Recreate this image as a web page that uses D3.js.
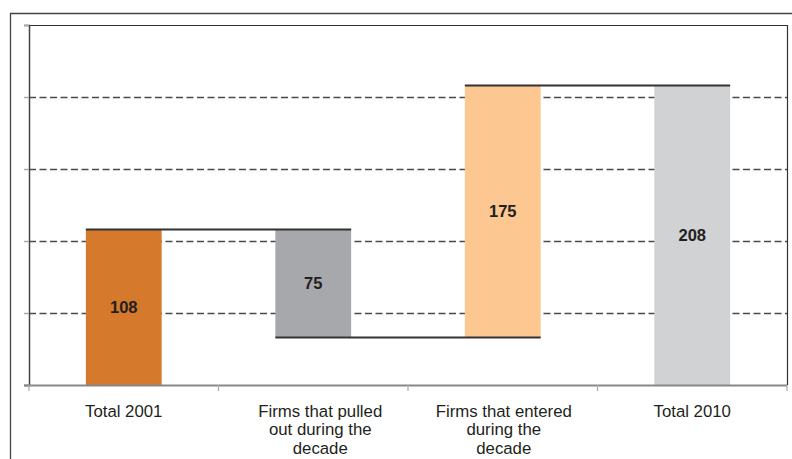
<!DOCTYPE html>
<html>
<head>
<meta charset="utf-8">
<script src="https://cdn.jsdelivr.net/npm/d3@7"></script>
<style>
  html, body { margin: 0; padding: 0; background: #fff; }
  svg { display: block; font-family: "Liberation Sans", Arial, sans-serif; }
</style>
</head>
<body>
<svg id="chart" width="792" height="459"></svg>
<script>
// Firm counts, waterfall from 2001 to 2010
const categories = [
  "Total 2001",
  "Firms that pulled out during the decade",
  "Firms that entered during the decade",
  "Total 2010"
];
const categoryLines = [
  ["Total 2001"],
  ["Firms that pulled", "out during the", "decade"],
  ["Firms that entered", "during the", "decade"],
  ["Total 2010"]
];
const values = [108, -75, 175, 208];
const kinds = ["total", "delta", "delta", "total"];
const barColors = ["#D5792D", "#A7A8AB", "#FCC790", "#D1D2D4"];
const yTicks = [0, 50, 100, 150, 200, 250];

// Running start/end of each step
let running = 0;
const steps = values.map((v, i) => {
  let start, end;
  if (kinds[i] === "total") { start = 0; end = v; running = v; }
  else { start = running; end = running + v; running = end; }
  return { cat: categories[i], lines: categoryLines[i], value: Math.abs(v), start, end, color: barColors[i] };
});

const svg = d3.select("#chart");
const plot = { left: 29, right: 787, top: 25, bottom: 385 };

const x = d3.scaleBand()
  .domain(categories)
  .range([plot.left, plot.right])
  .paddingInner(0.6)
  .paddingOuter(0.3);

const y = d3.scaleLinear().domain([0, 250]).range([plot.bottom, plot.top]);

// Outer frame
svg.append("path")
  .attr("d", `M10.5,459 V13.5 H792`)
  .attr("fill", "none").attr("stroke", "#444").attr("stroke-width", 1.3);

// Plot box: top and right edges
svg.append("path")
  .attr("d", `M${plot.left},${plot.top + 0.5} H${plot.right + 0.5} V${plot.bottom}`)
  .attr("fill", "none").attr("stroke", "#333").attr("stroke-width", 1.2);

// Dashed grid lines
svg.append("g")
  .selectAll("line")
  .data(yTicks.filter(t => t > 0 && t < 250))
  .join("line")
  .attr("x1", plot.left).attr("x2", plot.right)
  .attr("y1", d => Math.round(y(d)) + 0.5).attr("y2", d => Math.round(y(d)) + 0.5)
  .attr("stroke", "#4a4a4a").attr("stroke-width", 1.3)
  .attr("stroke-dasharray", "7,3.5");

// Y axis with short ticks and no labels
const yAxis = svg.append("g")
  .attr("transform", `translate(${plot.left},0)`)
  .call(d3.axisLeft(y).tickValues(yTicks).tickSize(5).tickFormat(""));
yAxis.select(".domain").attr("stroke", "#444").attr("stroke-width", 1.5);
yAxis.selectAll(".tick line").attr("stroke", "#aaa").attr("stroke-width", 1.5);

// Bars
svg.append("g")
  .selectAll("rect")
  .data(steps)
  .join("rect")
  .attr("x", d => x(d.cat))
  .attr("width", x.bandwidth())
  .attr("y", d => y(Math.max(d.start, d.end)))
  .attr("height", d => Math.abs(y(d.start) - y(d.end)))
  .attr("fill", d => d.color);

// Connector lines between consecutive steps
const connectors = steps.slice(0, -1).map((d, i) => ({
  level: d.end,
  x1: x(d.cat),
  x2: x(steps[i + 1].cat) + x.bandwidth()
}));
svg.append("g")
  .selectAll("line")
  .data(connectors)
  .join("line")
  .attr("x1", d => d.x1).attr("x2", d => d.x2)
  .attr("y1", d => y(d.level)).attr("y2", d => y(d.level))
  .attr("stroke", "#333").attr("stroke-width", 2.2);

// X axis with ticks at category boundaries
const xAxisG = svg.append("g");
xAxisG.append("line")
  .attr("x1", plot.left - 5).attr("x2", plot.right)
  .attr("y1", plot.bottom + 0.5).attr("y2", plot.bottom + 0.5)
  .attr("stroke", "#888").attr("stroke-width", 2);
const step = (plot.right - plot.left) / categories.length;
xAxisG.selectAll("line.tick")
  .data(d3.range(categories.length + 1))
  .join("line")
  .attr("class", "tick")
  .attr("x1", i => plot.left + i * step).attr("x2", i => plot.left + i * step)
  .attr("y1", plot.bottom).attr("y2", plot.bottom + 6)
  .attr("stroke", "#aaa").attr("stroke-width", 1.2);

// Value labels
svg.append("g")
  .selectAll("text")
  .data(steps)
  .join("text")
  .attr("x", d => x(d.cat) + x.bandwidth() / 2)
  .attr("y", d => (y(d.start) + y(d.end)) / 2)
  .attr("dy", "0.36em")
  .attr("text-anchor", "middle")
  .attr("font-size", 16.5)
  .attr("font-weight", "bold")
  .attr("fill", "#231F20")
  .text(d => d.value);

// Category labels (the wrapped second label sits slightly right of centre)
const labelShift = [0, 7, 1, 0];
const catText = svg.append("g")
  .selectAll("text")
  .data(steps)
  .join("text")
  .attr("x", (d, i) => x(d.cat) + x.bandwidth() / 2 + labelShift[i])
  .attr("y", 417)
  .attr("text-anchor", "middle")
  .attr("font-size", 16.8)
  .attr("fill", "#231F20");
catText.selectAll("tspan")
  .data((d, i) => d.lines.map(l => ({ l, cx: x(d.cat) + x.bandwidth() / 2 + labelShift[i] })))
  .join("tspan")
  .attr("x", d => d.cx)
  .attr("dy", (d, i) => i === 0 ? 0 : 18.3)
  .text(d => d.l);
</script>
</body>
</html>
